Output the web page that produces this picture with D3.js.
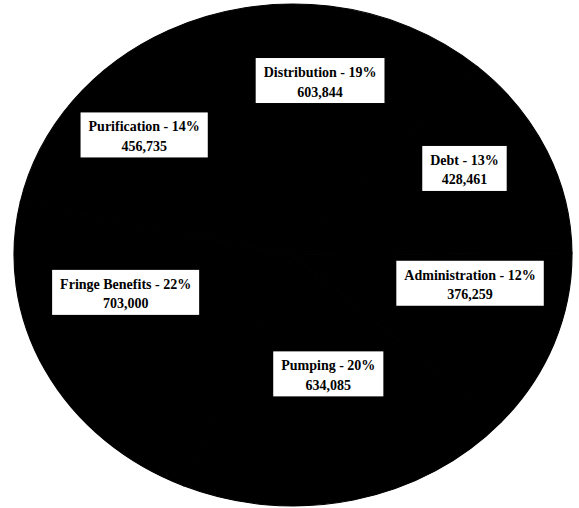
<!DOCTYPE html>
<html>
<head>
<meta charset="utf-8">
<script src="https://cdn.jsdelivr.net/npm/d3@7"></script>
<style>
  html, body { margin: 0; padding: 0; background: #fff; }
  svg { display: block; }
</style>
</head>
<body>
<svg id="chart" width="579" height="508"></svg>
<script>
// ---- data ----
const categories = ["Distribution", "Debt", "Administration", "Pumping", "Fringe Benefits", "Purification"];
const values = [603844, 428461, 376259, 634085, 703000, 456735];
const percentLabels = ["19%", "13%", "12%", "20%", "22%", "14%"];

// ---- layout (not data) ----
const W = 579, H = 508;
const cx = 293, cy = 255, rx = 279, ry = 251;
const startDeg = -26.5;
const labelRadius = 0.65;
// manual label nudges (px) as in the original
const labelNudge = [[3.6, -12.7], [6.5, -18.8], [7.4, -29.4], [-4, -40.4], [-6.3, -37.6], [-5.6, -20]];

const svg = d3.select("#chart");
svg.append("rect").attr("width", W).attr("height", H).attr("fill", "#fff");

const data = categories.map((c, i) => ({ name: c, value: values[i], pct: percentLabels[i], i }));
const pie = d3.pie().sort(null).value(d => d.value)
  .startAngle(startDeg * Math.PI / 180)
  .endAngle(startDeg * Math.PI / 180 + 2 * Math.PI);
const arcs = pie(data);

const arc = d3.arc().innerRadius(0).outerRadius(ry);
const g = svg.append("g").attr("transform", `translate(${cx},${cy}) scale(${rx / ry},1)`);
g.selectAll("path").data(arcs).join("path")
  .attr("d", arc)
  .attr("fill", "#000")
  .attr("stroke", "#000")
  .attr("stroke-width", 1);

const fmt = d3.format(",");
const labels = svg.append("g");
arcs.forEach(a => {
  const mid = (a.startAngle + a.endAngle) / 2;
  const x = cx + rx * labelRadius * Math.sin(mid) + labelNudge[a.data.i][0];
  const y = cy - ry * labelRadius * Math.cos(mid) + labelNudge[a.data.i][1];
  const lg = labels.append("g").attr("transform", `translate(${x},${y})`);
  const box = lg.append("rect").attr("fill", "#fff");
  const t1 = lg.append("text").attr("text-anchor", "middle").attr("y", -3.5)
    .attr("font-family", "Liberation Serif, Times New Roman, serif")
    .attr("font-size", 14).attr("font-weight", "bold").attr("fill", "#000")
    .text(`${a.data.name} - ${a.data.pct}`);
  const t2 = lg.append("text").attr("text-anchor", "middle").attr("y", 16)
    .attr("font-family", "Liberation Serif, Times New Roman, serif")
    .attr("font-size", 14).attr("font-weight", "bold").attr("fill", "#000")
    .text(fmt(a.data.value));
  const w = Math.max(t1.node().getComputedTextLength(), t2.node().getComputedTextLength()) + 16;
  box.attr("x", -w / 2).attr("y", -22.5).attr("width", w).attr("height", 45);
});
</script>
</body>
</html>
